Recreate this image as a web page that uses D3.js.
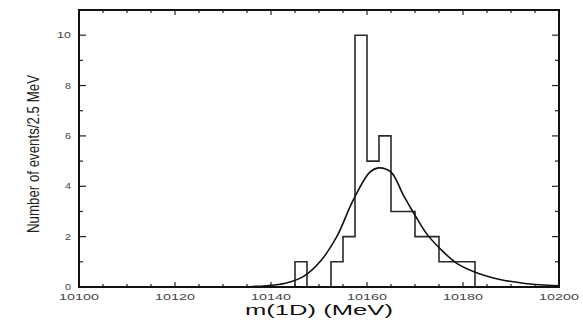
<!DOCTYPE html>
<html>
<head>
<meta charset="utf-8">
<script src="https://cdn.jsdelivr.net/npm/d3@7"></script>
<style>
  body { margin: 0; background: #fff; }
  text { font-family: "Liberation Sans", Arial, sans-serif; }
</style>
</head>
<body>
<div id="plot"></div>
<script>
// histogram, 2.5 MeV bins (left edges + last right edge)
var binEdges = [10145, 10147.5, 10150, 10152.5, 10155, 10157.5, 10160, 10162.5,
    10165, 10167.5, 10170, 10172.5, 10175, 10177.5, 10180, 10182.5];
var counts = [1, 0, 0, 1, 2, 10, 5, 6, 3, 3, 2, 2, 1, 1, 1];

// fitted curve
var curveX = [10136, 10139, 10143, 10146.7, 10150.2, 10153.7, 10157.1, 10160.6, 10162.4,
    10165, 10167.6, 10170, 10172.4, 10175.2, 10178.7, 10182.8, 10187.7, 10192.6, 10196, 10200];
var curveY = [0.02, 0.05, 0.15, 0.41, 1.0, 2.0, 3.44, 4.56, 4.73,
    4.56, 3.64, 2.85, 2.12, 1.53, 0.94, 0.57, 0.30, 0.15, 0.09, 0.05];

var xTickLabels = [10100, 10120, 10140, 10160, 10180, 10200];
var yTickLabels = [0, 2, 4, 6, 8, 10];

var width = 583, height = 322;
var svg = d3.select("#plot").append("svg")
    .attr("width", width)
    .attr("height", height);

var xScale = d3.scaleLinear().domain([10100, 10200]).range([79, 559]);
var yScale = d3.scaleLinear().domain([0, 11]).range([287, 10]);

// histogram outline
var histPts = [[binEdges[0], 0]];
counts.forEach(function (c, i) { histPts.push([binEdges[i], c]); });
histPts.push([binEdges[binEdges.length - 1], 0]);

var stepLine = d3.line()
    .x(function (d) { return xScale(d[0]); })
    .y(function (d) { return yScale(d[1]); })
    .curve(d3.curveStepAfter);

svg.append("path")
    .attr("d", stepLine(histPts))
    .attr("fill", "none")
    .attr("stroke", "#2a2a2a")
    .attr("stroke-width", 1.6);

// fit curve
var curvePts = curveX.map(function (x, i) { return [x, curveY[i]]; });
var fitLine = d3.line()
    .x(function (d) { return xScale(d[0]); })
    .y(function (d) { return yScale(d[1]); })
    .curve(d3.curveCatmullRom);

svg.append("path")
    .attr("d", fitLine(curvePts))
    .attr("fill", "none")
    .attr("stroke", "#111")
    .attr("stroke-width", 1.6);

// ticks, all pointing inward on every side
var ticks = svg.append("g").attr("stroke", "#222").attr("stroke-width", 1.2);
d3.range(10100, 10201, 5).forEach(function (v) {
    var len = (v % 20 === 0) ? 5 : 3;
    var x = xScale(v);
    ticks.append("line").attr("x1", x).attr("x2", x)
        .attr("y1", yScale(0)).attr("y2", yScale(0) - len);
    ticks.append("line").attr("x1", x).attr("x2", x)
        .attr("y1", yScale(11)).attr("y2", yScale(11) + len);
});
d3.range(0, 11, 1).forEach(function (v) {
    var len = (v % 2 === 0) ? 7 : 4;
    var y = yScale(v);
    ticks.append("line").attr("x1", xScale(10100)).attr("x2", xScale(10100) + len)
        .attr("y1", y).attr("y2", y);
    ticks.append("line").attr("x1", xScale(10200)).attr("x2", xScale(10200) - len)
        .attr("y1", y).attr("y2", y);
});

// frame
svg.append("rect")
    .attr("x", xScale(10100))
    .attr("y", yScale(11))
    .attr("width", xScale(10200) - xScale(10100))
    .attr("height", yScale(0) - yScale(11))
    .attr("fill", "none")
    .attr("stroke", "#111")
    .attr("stroke-width", 2);

// tick labels
svg.selectAll(".xlab")
    .data(xTickLabels).enter().append("text")
    .attr("x", function (d) { return xScale(d); })
    .attr("y", 300)
    .attr("text-anchor", "middle")
    .attr("font-size", 8.5)
    .attr("fill", "#444")
    .attr("textLength", 40)
    .attr("lengthAdjust", "spacingAndGlyphs")
    .text(function (d) { return d; });

svg.selectAll(".ylab")
    .data(yTickLabels).enter().append("text")
    .attr("x", 71)
    .attr("y", function (d) { return yScale(d) + 3; })
    .attr("text-anchor", "end")
    .attr("font-size", 8.5)
    .attr("fill", "#444")
    .attr("textLength", function (d) { return d >= 10 ? 14 : 6; })
    .attr("lengthAdjust", "spacingAndGlyphs")
    .text(function (d) { return d; });

// axis titles
svg.append("text")
    .attr("x", (xScale(10100) + xScale(10200)) / 2)
    .attr("y", 315)
    .attr("text-anchor", "middle")
    .attr("font-size", 15)
    .attr("fill", "#111")
    .attr("textLength", 148)
    .attr("lengthAdjust", "spacingAndGlyphs")
    .text("m(1D) (MeV)");

svg.append("text")
    .attr("transform", "translate(39,154) rotate(-90)")
    .attr("text-anchor", "middle")
    .attr("font-size", 17)
    .attr("fill", "#222")
    .attr("textLength", 158)
    .attr("lengthAdjust", "spacingAndGlyphs")
    .text("Number of events/2.5 MeV");
</script>
</body>
</html>
